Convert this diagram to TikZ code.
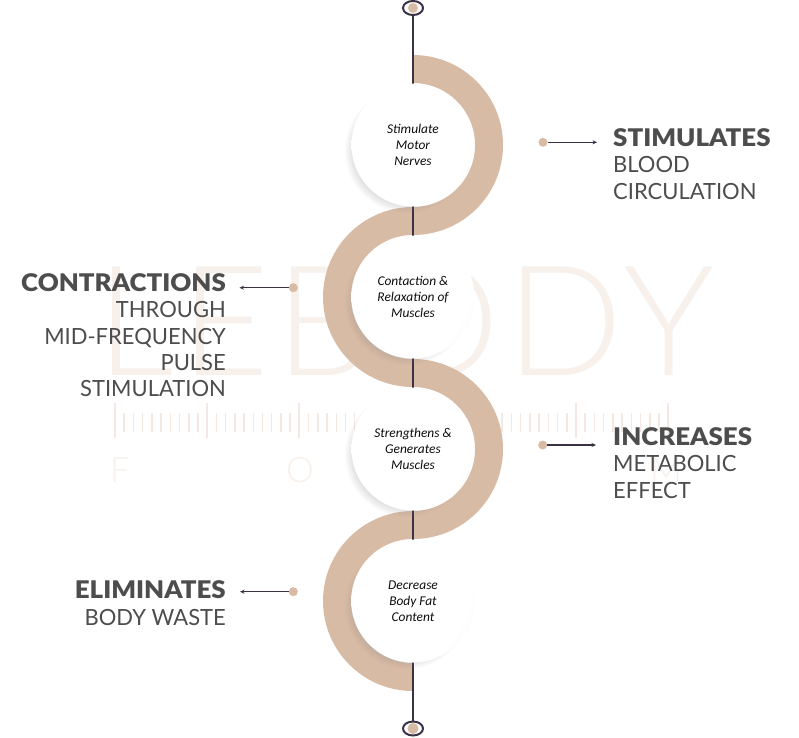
\documentclass[tikz,border=0pt]{standalone}
\usepackage{fontspec}
\setmainfont{Lato}[FakeStretch=0.985]
\newfontfamily\headfont{Lato Black}[FakeStretch=1.065]
\newfontfamily\wmfont{Lato Light}
\newfontfamily\wmwordfont{Lato Light}[LetterSpace=4]
\newfontfamily\circfont{Carlito}
\usetikzlibrary{shadows,arrows.meta,shapes.geometric}
\definecolor{tan}{HTML}{D8BBA5}
\definecolor{ink}{HTML}{3B3145}
\definecolor{txt}{HTML}{4D4D4D}
\definecolor{wm}{HTML}{F7F0EB}
\definecolor{wmtick}{HTML}{F3E9E2}
\pgfdeclareradialshading{ballshade}{\pgfpoint{-12bp}{8bp}}{color(0bp)=(white); color(30bp)=(white); color(50bp)=(black!7); color(72bp)=(black!14)}
\tikzset{
  ball/.style={circle, minimum size=123pt, inner sep=0pt, shade, shading=ballshade,
    circular drop shadow={shadow xshift=-6pt, shadow yshift=-5pt, opacity=0.25, shadow scale=1.02},
    font=\circfont\itshape\fontsize{13.4}{16}\selectfont, align=center, text=black!95},
  band/.style={fill=tan},
  spine/.style={draw=ink, line width=2.2pt},
  endcap/.style={ellipse, draw=ink, line width=2pt, fill=white, minimum width=20pt, minimum height=14pt, inner sep=0pt},
  dot/.style={circle, fill=tan, minimum size=9pt, inner sep=0pt},
  conn/.style={draw=ink, line width=1.1pt, -{Stealth[length=4.5pt,width=4pt]}},
  lab/.style={inner sep=0pt, text=txt, font=\fontsize{22.3}{26.3}\selectfont},
}
\newcommand{\hd}[1]{{\headfont\fontsize{24.3}{26.3}\selectfont #1}}
\begin{document}
\begin{tikzpicture}[x=1pt,y=-1pt]
\useasboundingbox (0,0) rectangle (799,737);
\fill[white] (0,0) rectangle (799,737);
% watermark
\node[anchor=base west, inner sep=0pt, text=wm, font=\wmwordfont\fontsize{153.5}{160}\selectfont] (wmword) at (96,375) {LEBODY};
\foreach \i in {0,...,60}{
  \pgfmathsetmacro{\xx}{115+\i*9.22}
  \pgfmathtruncatemacro{\mm}{mod(\i,10)}
  \ifnum\mm=0
    \draw[wmtick, line width=2pt] (\xx,403) -- (\xx,438);
  \else
    \draw[wmtick, line width=1.5pt] (\xx,413) -- (\xx,432);
  \fi
}
\foreach \ch/\xx in {F/120,O/300,R/483,M/666}{
  \node[anchor=base, inner sep=0pt, text=wm, font=\wmfont\fontsize{35}{40}\selectfont] at (\xx,482) {\ch};
}
% bands
\fill[band] (413,55) arc[start angle=-90, end angle=90, radius=90] -- (413,207) arc[start angle=90, end angle=-90, radius=62] -- cycle;
\fill[band] (413,207) arc[start angle=270, end angle=90, radius=90] -- (413,359) arc[start angle=90, end angle=270, radius=62] -- cycle;
\fill[band] (413,359) arc[start angle=-90, end angle=90, radius=90] -- (413,511) arc[start angle=90, end angle=-90, radius=62] -- cycle;
\fill[band] (413,511) arc[start angle=270, end angle=90, radius=90] -- (413,663) arc[start angle=90, end angle=270, radius=62] -- cycle;
% end caps and spine
\node[endcap] (top) at (413,8) {};
\node[endcap] (bot) at (413,728.5) {};
\draw[spine] (top) -- (bot);
\fill[tan] (top.center) circle (5);
\fill[tan] (bot.center) circle (5.5);
% circles
\node[ball] (c1) at (413,145) {Stimulate\\Motor\\Nerves};
\node[ball] (c2) at (413,297) {Contaction \&\\Relaxation of\\Muscles};
\node[ball] (c3) at (413,449) {Strengthens \&\\Generates\\Muscles};
\node[ball] (c4) at (413,601) {Decrease\\Body Fat\\Content};
% connectors
\node[dot] (d1) at (543,142.3) {};
\coordinate (a1) at (597,142.3);
\draw[conn] (d1) -- (a1);
\node[dot] (d2) at (293.3,287.7) {};
\coordinate (a2) at (239.5,287.7);
\draw[conn] (d2) -- (a2);
\node[dot] (d3) at (542.7,445) {};
\coordinate (a3) at (596,445);
\draw[conn] (d3) -- (a3);
\node[dot] (d4) at (293.3,591.7) {};
\coordinate (a4) at (240,591.7);
\draw[conn] (d4) -- (a4);
% labels
\node[lab, anchor=north west, align=left] (l1) at (613,128.3) {\hd{STIMULATES}\\BLOOD\\CIRCULATION};
\node[lab, anchor=north east, align=right] (l2) at (226,273.3) {\hd{CONTRACTIONS}\\THROUGH\\MID-FREQUENCY\\PULSE\\STIMULATION};
\node[lab, anchor=north west, align=left] (l3) at (613,427.3) {\hd{INCREASES}\\METABOLIC\\EFFECT};
\node[lab, anchor=north east, align=right] (l4) at (226,580.7) {\hd{ELIMINATES}\\BODY WASTE};
\end{tikzpicture}
\end{document}
